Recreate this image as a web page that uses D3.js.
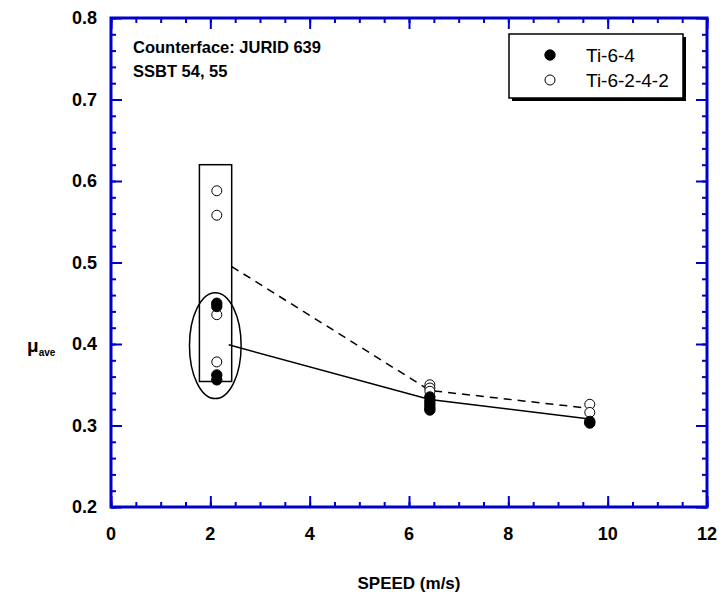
<!DOCTYPE html>
<html>
<head>
<meta charset="utf-8">
<script src="https://cdn.jsdelivr.net/npm/d3@7"></script>
<style>
  body { margin: 0; background: #fff; }
  svg { display: block; font-family: Arial, "Liberation Sans", sans-serif; }
</style>
</head>
<body>
<div id="chart"></div>
<script>
// Data
const xTicks = [0, 2, 4, 6, 8, 10, 12];
const yTicks = [0.2, 0.3, 0.4, 0.5, 0.6, 0.7, 0.8];

const ti64Speed = [2.13, 2.13, 2.13, 2.13, 6.42, 6.42, 6.42, 6.42, 6.42, 9.64, 9.64];
const ti64Mu    = [0.450, 0.446, 0.362, 0.356, 0.335, 0.330, 0.326, 0.322, 0.319, 0.305, 0.303];

const ti6242Speed = [2.13, 2.13, 2.13, 2.13, 6.42, 6.42, 6.42, 9.64, 9.64];
const ti6242Mu    = [0.588, 0.558, 0.436, 0.378, 0.350, 0.346, 0.342, 0.326, 0.316];

// trend lines (solid = Ti-6-4, dashed = Ti-6-2-4-2)
const solidSpeed  = [2.37, 6.42, 9.64];
const solidMu     = [0.399, 0.332, 0.308];
const dashedSpeed = [2.43, 6.42, 9.64];
const dashedMu    = [0.495, 0.343, 0.321];

// grouping box and ellipse around the 2 m/s data
const boxSpeed = [1.78, 2.43];
const boxMu = [0.354, 0.62];
const ellipseCenter = [2.10, 0.398];
const ellipseRadius = [0.52, 0.065];

const legendLabels = ["Ti-6-4", "Ti-6-2-4-2"];

const W = 720, H = 592;
const margin = { left: 111, right: 13, top: 18, bottom: 85 };
const axisColor = "#0000cc";

const svg = d3.select("#chart")
  .append("svg")
  .attr("width", W)
  .attr("height", H);

const x = d3.scaleLinear().domain([0, 12]).range([margin.left, W - margin.right]);
const y = d3.scaleLinear().domain([0.2, 0.8]).range([H - margin.bottom, margin.top]);

// Minor + major ticks on all four sides, pointing inward
const xMinor = d3.range(0, 12.001, 0.5);
const yMinor = d3.range(0.2, 0.8001, 0.02);

function tickAxis(axisFn, scale, values, size, translate) {
  const g = svg.append("g")
    .attr("transform", translate)
    .call(axisFn(scale).tickValues(values).tickSize(size).tickFormat(""));
  g.select(".domain").remove();
  g.selectAll("line").attr("stroke", axisColor).attr("stroke-width", 2);
  return g;
}

const bottomY = y(0.2), topY = y(0.8), leftX = x(0), rightX = x(12);
tickAxis(d3.axisBottom, x, xMinor, -5, `translate(0,${bottomY})`);
tickAxis(d3.axisBottom, x, xTicks, -11, `translate(0,${bottomY})`);
tickAxis(d3.axisTop, x, xMinor, -5, `translate(0,${topY})`);
tickAxis(d3.axisTop, x, xTicks, -11, `translate(0,${topY})`);
tickAxis(d3.axisLeft, y, yMinor, -5, `translate(${leftX},0)`);
tickAxis(d3.axisLeft, y, yTicks, -11, `translate(${leftX},0)`);
tickAxis(d3.axisRight, y, yMinor, -5, `translate(${rightX},0)`);
tickAxis(d3.axisRight, y, yTicks, -11, `translate(${rightX},0)`);

// Frame
svg.append("rect")
  .attr("x", leftX).attr("y", topY)
  .attr("width", rightX - leftX).attr("height", bottomY - topY)
  .attr("fill", "none")
  .attr("stroke", axisColor)
  .attr("stroke-width", 3);

// Tick labels
svg.selectAll(".xlab")
  .data(xTicks)
  .enter().append("text")
  .attr("x", d => x(d))
  .attr("y", bottomY + 33)
  .attr("text-anchor", "middle")
  .attr("font-size", "18px")
  .attr("font-weight", "bold")
  .text(d => d);

svg.selectAll(".ylab")
  .data(yTicks)
  .enter().append("text")
  .attr("x", leftX - 14)
  .attr("y", d => y(d) + 6)
  .attr("text-anchor", "end")
  .attr("font-size", "18px")
  .attr("font-weight", "bold")
  .text(d => d.toFixed(1));

// Axis titles
svg.append("text")
  .attr("x", (leftX + rightX) / 2)
  .attr("y", 589)
  .attr("text-anchor", "middle")
  .attr("font-size", "17px")
  .attr("font-weight", "bold")
  .text("SPEED (m/s)");

const ylab = svg.append("text")
  .attr("x", 27)
  .attr("y", 352)
  .attr("font-weight", "bold");
ylab.append("tspan").attr("font-size", "19px").text("\u03bc");
ylab.append("tspan").attr("font-size", "10px").attr("dy", 4).text("ave");

// Annotation
svg.append("text")
  .attr("x", 133).attr("y", 53)
  .attr("font-size", "16.5px").attr("font-weight", "bold")
  .text("Counterface: JURID 639");
svg.append("text")
  .attr("x", 133).attr("y", 77)
  .attr("font-size", "16.5px").attr("font-weight", "bold")
  .text("SSBT 54, 55");

// Grouping box and ellipse
svg.append("rect")
  .attr("x", x(boxSpeed[0]))
  .attr("y", y(boxMu[1]))
  .attr("width", x(boxSpeed[1]) - x(boxSpeed[0]))
  .attr("height", y(boxMu[0]) - y(boxMu[1]))
  .attr("fill", "none")
  .attr("stroke", "#000")
  .attr("stroke-width", 1.5);

svg.append("ellipse")
  .attr("cx", x(ellipseCenter[0]))
  .attr("cy", y(ellipseCenter[1]))
  .attr("rx", x(ellipseRadius[0]) - x(0))
  .attr("ry", y(0.2) - y(0.2 + ellipseRadius[1]))
  .attr("fill", "none")
  .attr("stroke", "#000")
  .attr("stroke-width", 1.5);

// Trend lines
const line = d3.line().x(d => x(d[0])).y(d => y(d[1]));
svg.append("path")
  .datum(d3.zip(solidSpeed, solidMu))
  .attr("d", line)
  .attr("fill", "none")
  .attr("stroke", "#000")
  .attr("stroke-width", 1.5);
svg.append("path")
  .datum(d3.zip(dashedSpeed, dashedMu))
  .attr("d", line)
  .attr("fill", "none")
  .attr("stroke", "#000")
  .attr("stroke-width", 1.5)
  .attr("stroke-dasharray", "8,6");

// Markers: open circles first, filled on top
svg.selectAll(".open")
  .data(d3.zip(ti6242Speed, ti6242Mu))
  .enter().append("circle")
  .attr("cx", d => x(d[0]))
  .attr("cy", d => y(d[1]))
  .attr("r", 5)
  .attr("fill", "#fff")
  .attr("stroke", "#000")
  .attr("stroke-width", 1);

svg.selectAll(".filled")
  .data(d3.zip(ti64Speed, ti64Mu))
  .enter().append("circle")
  .attr("cx", d => x(d[0]))
  .attr("cy", d => y(d[1]))
  .attr("r", 5.2)
  .attr("fill", "#000")
  .attr("stroke", "#000")
  .attr("stroke-width", 1);

// Legend with drop shadow
const lg = { x: 509, y: 34, w: 174, h: 64 };
svg.append("rect")
  .attr("x", lg.x + 3).attr("y", lg.y + 3)
  .attr("width", lg.w).attr("height", lg.h)
  .attr("fill", "#000");
svg.append("rect")
  .attr("x", lg.x).attr("y", lg.y)
  .attr("width", lg.w).attr("height", lg.h)
  .attr("fill", "#fff")
  .attr("stroke", "#000")
  .attr("stroke-width", 1.5);

legendLabels.forEach((lab, i) => {
  const cy = lg.y + 21 + i * 25;
  svg.append("circle")
    .attr("cx", lg.x + 41).attr("cy", cy)
    .attr("r", i === 0 ? 5.2 : 5)
    .attr("fill", i === 0 ? "#000" : "#fff")
    .attr("stroke", "#000");
  svg.append("text")
    .attr("x", lg.x + 77).attr("y", cy + 7)
    .attr("font-size", "19px")
    .text(lab);
});
</script>
</body>
</html>
